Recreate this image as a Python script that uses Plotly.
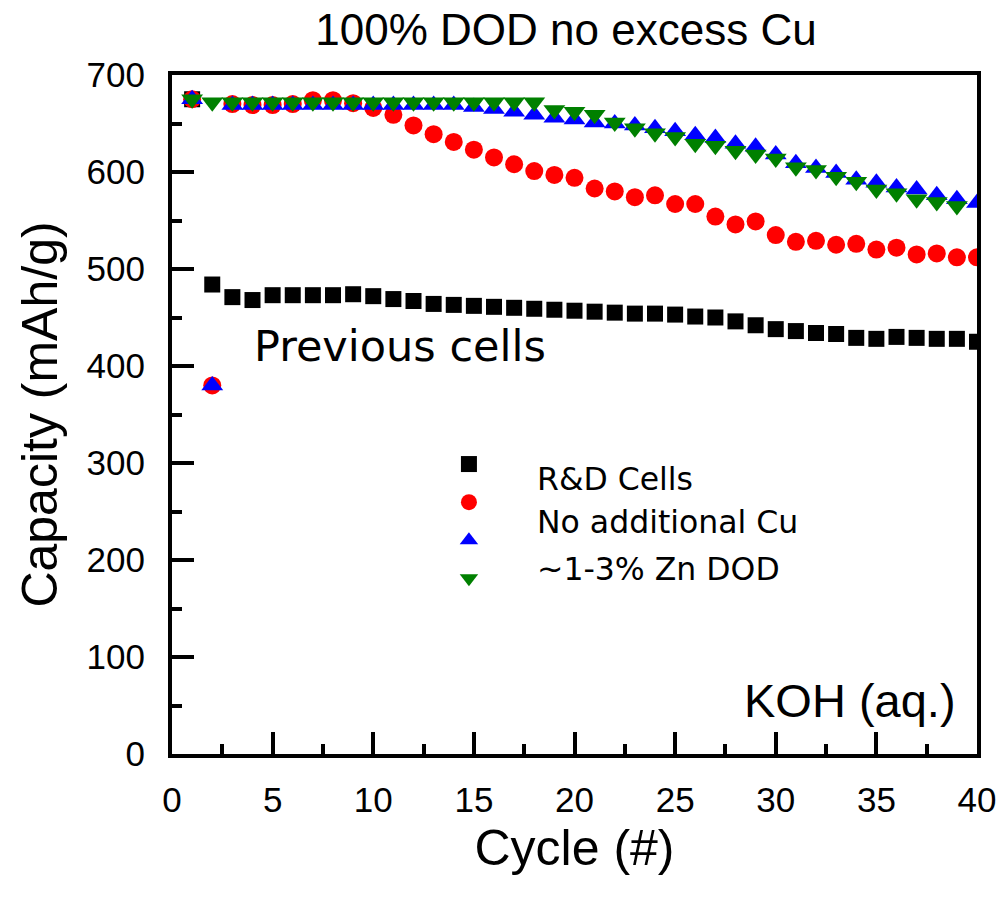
import plotly.graph_objects as go

# ---------------- data ----------------
cycles_40 = list(range(1, 41))
cycles_39 = list(range(1, 40))

rd_cells = [675, 484, 471, 468, 473, 473, 473, 473, 474, 472,
            469, 467, 464, 463, 462, 461, 460, 459, 458, 457,
            456, 455, 454, 454, 453, 451, 450, 446, 442, 438,
            436, 434, 433, 429, 428, 430, 429, 428, 428, 425]

no_add_cu_red = [675, 380, 670, 669, 669, 670, 674, 674, 671, 666,
                 659, 648, 639, 631, 623, 615, 608, 601, 597, 594,
                 583, 580, 574, 576, 567, 567, 554, 546, 549, 535,
                 528, 529, 525, 526, 520, 522, 515, 516, 512, 512]

no_add_cu_blue = [675, 380, 669, 669, 669, 669, 669, 669, 669, 669,
                  669, 669, 669, 669, 667, 665, 662, 659, 656, 654,
                  651, 650, 648, 645, 642, 638, 635, 629, 626, 618,
                  609, 604, 599, 592, 589, 584, 582, 576, 572, 568]

zn_dod_green = [675, 672, 672, 672, 672, 672, 672, 672, 672, 672,
                672, 672, 672, 672, 672, 672, 672, 672, 664, 662,
                659, 651, 645, 640, 636, 629, 627, 622, 618, 614,
                605, 602, 595, 590, 582, 578, 572, 569, 565]

legend_labels = ["R&D Cells", "No additional Cu", "~1-3% Zn DOD"]
series_names = ["R&D Cells", "No additional Cu (red)", "No additional Cu (blue)", "~1-3% Zn DOD"]

x_ticks = [0, 5, 10, 15, 20, 25, 30, 35, 40]
y_ticks = [0, 100, 200, 300, 400, 500, 600, 700]

# ---------------- figure ----------------
fig = go.Figure()

specs = [
    (cycles_40, rd_cells, "square", "black", 16),
    (cycles_40, no_add_cu_red, "circle", "red", 18),
    (cycles_40, no_add_cu_blue, "triangle-up", "blue", 19),
    (cycles_39, zn_dod_green, "triangle-down", "green", 19),
]
for (xs, ys, sym, col, sz), nm in zip(specs, series_names):
    fig.add_trace(go.Scatter(
        x=xs, y=ys, mode="markers", name="",
        hovertemplate=nm + "<br>Cycle %{x}<br>%{y} mAh/g<extra></extra>",
        marker=dict(symbol=sym, color=col, size=sz, line=dict(width=0)),
    ))

W, H = 1008, 898
L, R, T, B = 172, 25, 75, 144
pw, ph = W - L - R, H - T - B

def px_x(p):
    return (p - L) / pw

def px_y(p):
    return (H - B - p) / ph

fig.update_layout(
    width=W, height=H,
    margin=dict(l=L, r=R, t=T, b=B),
    plot_bgcolor="white", paper_bgcolor="white",
    font=dict(family="Liberation Sans, Arial, sans-serif", color="black"),
    title=dict(text="100% DOD no excess Cu", x=566 / W, xref="container", xanchor="center",
               y=1 - 30 / H, yref="container", yanchor="middle",
               font=dict(size=44, family="Liberation Sans, Arial, sans-serif", color="black")),
    showlegend=True,
    legend=dict(x=px_x(451), y=px_y(440), xanchor="left", yanchor="top",
                bgcolor="rgba(0,0,0,0)", borderwidth=0,
                font=dict(size=27, family="DejaVu Sans"), itemwidth=30,
                tracegroupgap=0),
)

axis_common = dict(
    showline=True, linecolor="black", linewidth=4, mirror=True,
    ticks="inside", tickcolor="black", tickwidth=4, ticklen=22,
    showgrid=False, zeroline=False,
    tickfont=dict(size=35, family="Liberation Sans, Arial, sans-serif", color="black"),
)

fig.update_xaxes(
    range=[0, 40], tickvals=x_ticks, ticktext=[str(v) for v in x_ticks],
    minor=dict(ticks="inside", dtick=2.5, tick0=0, ticklen=10, tickwidth=4, tickcolor="black", showgrid=False),
    title=dict(text="Cycle (#)", font=dict(size=50, family="Liberation Sans, Arial, sans-serif", color="black"), standoff=13),
    ticklabelstandoff=12,
    **axis_common,
)
fig.update_yaxes(
    range=[0, 700], tickvals=y_ticks, ticktext=[str(v) for v in y_ticks],
    minor=dict(ticks="inside", dtick=50, tick0=0, ticklen=10, tickwidth=4, tickcolor="black", showgrid=False),
    title=dict(text="Capacity (mAh/g)", font=dict(size=50, family="Liberation Sans, Arial, sans-serif", color="black"), standoff=14),
    ticklabelstandoff=16,
    **axis_common,
)

# text annotations
fig.add_annotation(text="Previous cells", xref="paper", yref="paper",
                   x=px_x(253), y=px_y(346), xanchor="left", yanchor="middle", showarrow=False,
                   font=dict(size=43, family="DejaVu Sans", color="black"))
legend_text_y = [479, 522, 569]
for lbl, yy in zip(legend_labels, legend_text_y):
    fig.add_annotation(text=lbl, xref="paper", yref="paper",
                       x=px_x(538), y=px_y(yy), xanchor="left", yanchor="middle", showarrow=False,
                       font=dict(size=31.5, family="DejaVu Sans", color="black"))
fig.add_annotation(text="KOH (aq.)", xref="paper", yref="paper",
                   x=px_x(746), y=px_y(700), xanchor="left", yanchor="middle", showarrow=False,
                   font=dict(size=47, family="Liberation Sans, Arial, sans-serif", color="black"))

fig.write_html("out.html")
